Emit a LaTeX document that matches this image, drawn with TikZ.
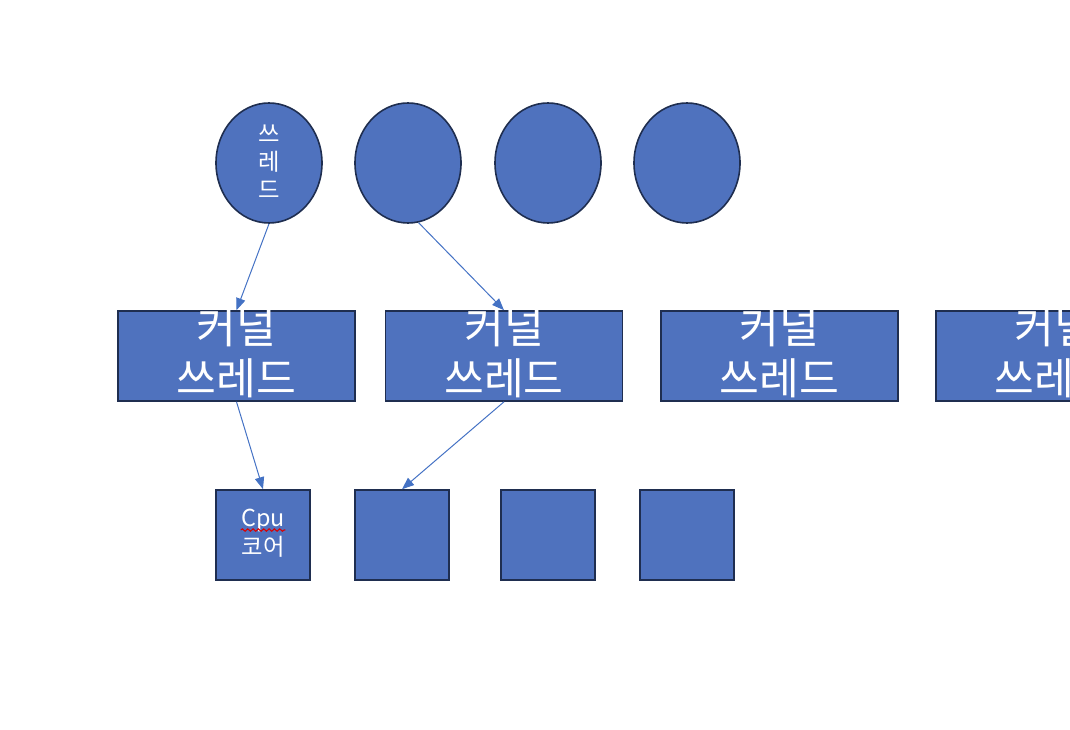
\documentclass[tikz,border=0pt]{standalone}
\usepackage{fontspec}
\newfontfamily\krfont{Noto Sans CJK KR}
\usetikzlibrary{arrows.meta,shapes.geometric,decorations.pathmorphing,calc}

\definecolor{shapefill}{RGB}{79,114,190}
\definecolor{shapeline}{RGB}{31,46,80}
\definecolor{arrowblue}{RGB}{68,114,196}

\tikzset{every picture/.style={line width=0.75pt}}
\tikzset{
  threadshape/.style={ellipse, draw=shapeline, fill=shapefill, line width=1.2pt, minimum width=79.5pt, minimum height=90pt, inner sep=0pt},
  ktbox/.style={rectangle, draw=shapeline, fill=shapefill, line width=1.2pt, minimum width=177.75pt, minimum height=67.5pt, inner sep=0pt},
  corebox/.style={rectangle, draw=shapeline, fill=shapefill, line width=1.2pt, minimum width=70.5pt, minimum height=67.5pt, inner sep=0pt},
  kttext/.style={text=white, font=\krfont\fontsize{32.5}{38}\selectfont, align=center, inner sep=0pt},
  smalltext/.style={text=white, font=\krfont\fontsize{17.5}{21}\selectfont, align=center, inner sep=0pt},
  link/.style={draw=arrowblue, line width=0.75pt, -{Triangle[length=9pt,width=7pt]}}
}

\begin{document}
\begin{tikzpicture}[x=0.75pt,y=0.75pt,yscale=-1,xscale=1]
\useasboundingbox (0,0) rectangle (1070,730);
\clip (0,0) rectangle (1070,730);

%Shape: Ellipse (user threads)
\node [threadshape] (thr1) at (269,163) {};
\node [threadshape] (thr2) at (408,163) {};
\node [threadshape] (thr3) at (548,163) {};
\node [threadshape] (thr4) at (687,163) {};

%Shape: Rectangle (kernel threads)
\node [ktbox] (kt1) at (236.5,356) {};
\node [ktbox] (kt2) at (504,356) {};
\node [ktbox] (kt3) at (779.5,356) {};
\node [ktbox] (kt4) at (1054.5,356) {};

%Shape: Square (cores)
\node [corebox] (core1) at (263,535) {};
\node [corebox] (core2) at (402,535) {};
\node [corebox] (core3) at (548,535) {};
\node [corebox] (core4) at (687,535) {};

% Text Node
\node [smalltext] (thr1lbl) at (269,162) {쓰\\레\\드};
% Text Node
\node [kttext] (kt1lbl) at (236.5,353) {커널\\쓰레드};
\node [kttext] (kt2lbl) at (504,353) {커널\\쓰레드};
\node [kttext] (kt3lbl) at (779.5,353) {커널\\쓰레드};
\node [kttext] (kt4lbl) at (1054.5,353) {커널\\쓰레드};
% Text Node
\node [smalltext] (cpulbl) at (263,520) {Cpu};
\node [smalltext] (corelbl) at (263,547) {코어};
%spell check mark under Cpu
\draw [red!85!black, line width=0.8pt, decorate, decoration={snake, amplitude=0.9pt, segment length=4pt}]
  ($(cpulbl.base west)+(0,4)$) -- ($(cpulbl.base east)+(0,4)$);

%Straight Lines
\draw [link] (thr1.south) -- (kt1.north);
\draw [link] (thr2.-80) -- (kt2.north);
\draw [link] (kt1.south) -- (core1.north);
\draw [link] (kt2.south) -- (core2.north);

\end{tikzpicture}
\end{document}
